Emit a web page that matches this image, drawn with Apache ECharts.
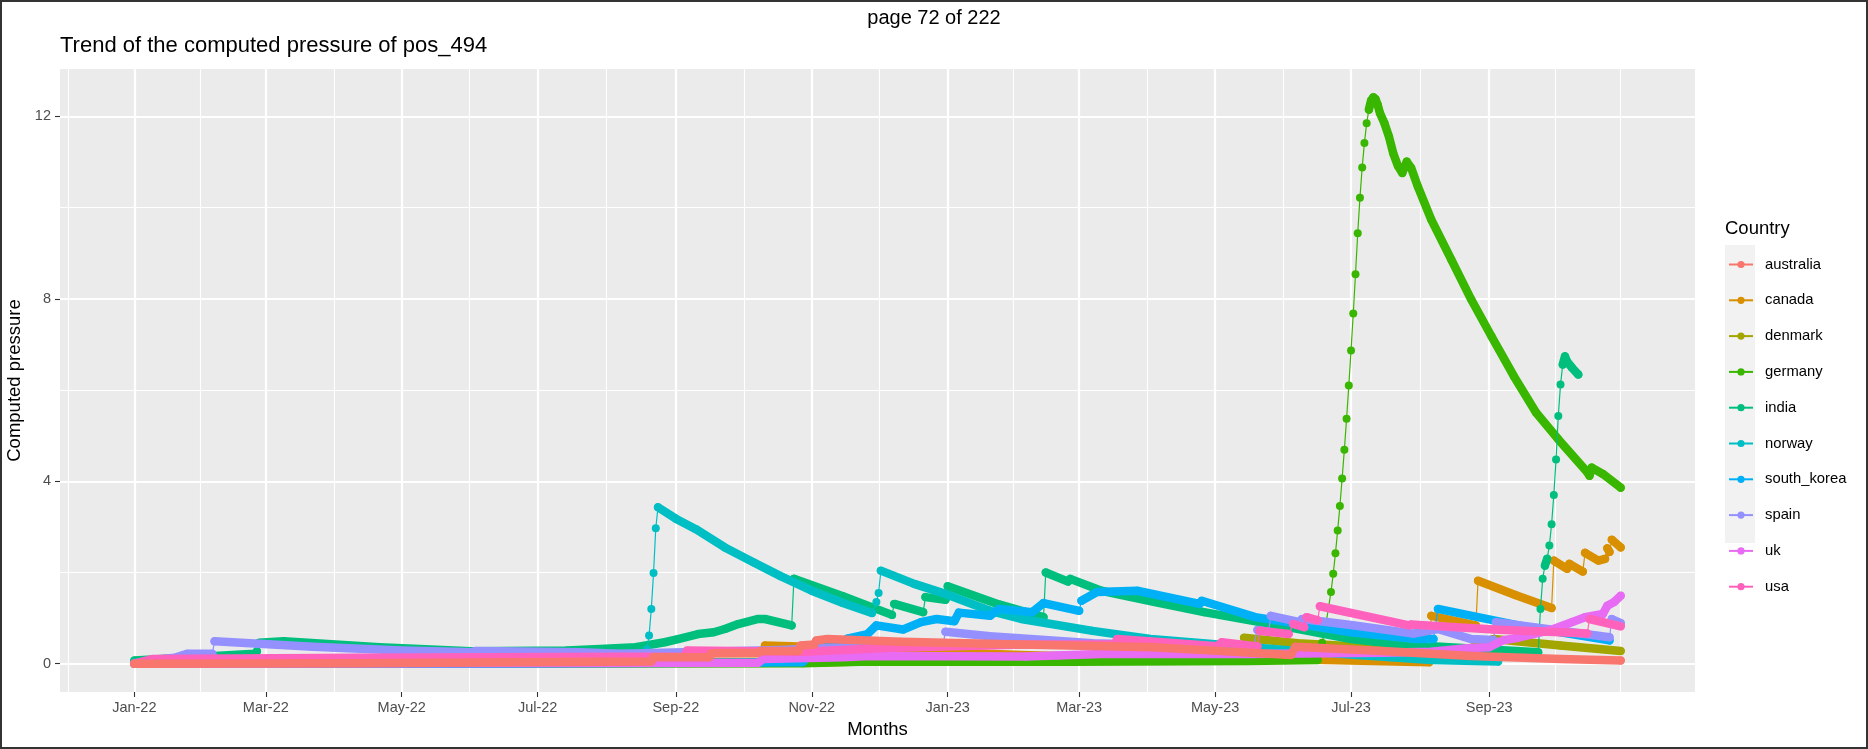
<!DOCTYPE html>
<html><head><meta charset="utf-8">
<script src="https://cdn.jsdelivr.net/npm/echarts@6.0.0/dist/echarts.min.js"></script>
<style>
html,body{margin:0;padding:0;background:#fff;}
#chart{position:absolute;left:0;top:0;width:1868px;height:749px;}
#frame{position:absolute;left:0;top:0;width:1868px;height:749px;box-sizing:border-box;border:2px solid #333;pointer-events:none;}
</style></head><body>
<div id="chart"></div><div id="frame"></div>
<script>
const countries = ['australia','canada','denmark','germany','india','norway','south_korea','spain','uk','usa'];
const colors = ['#F8766D','#D89000','#A3A500','#39B600','#00BF7D','#00BFC4','#00B0F6','#9590FF','#E76BF3','#FF62BC'];
const xTickDates = ['2022-01-01','2022-03-01','2022-05-01','2022-07-01','2022-09-01','2022-11-01','2023-01-01','2023-03-01','2023-05-01','2023-07-01','2023-09-01'];
const xTickLabels = ['Jan-22','Mar-22','May-22','Jul-22','Sep-22','Nov-22','Jan-23','Mar-23','May-23','Jul-23','Sep-23'];
const xBreakEnds = ['2021-11-03','2023-10-30'];
const yTicks = [0,4,8,12];
const yMinor = [2,6,10];

// [date, computed pressure, 'gap' = thin connector into this point]
const australia = [['2022-01-01',0.00],['2022-04-11',0.01],['2022-07-29',0.04],['2022-08-21',0.05],['2022-08-22',0.14],['2022-09-16',0.14],['2022-09-17',0.23],['2022-10-08',0.24],['2022-10-09',0.28],['2022-10-26',0.28],['2022-10-27',0.40],['2022-11-02',0.42],['2022-11-03',0.51],['2022-11-08',0.54],['2022-12-11',0.48],['2023-02-03',0.42],['2023-04-03',0.36],['2023-05-06',0.27],['2023-06-04',0.19],['2023-06-06',0.37],['2023-07-15',0.28],['2023-08-24',0.17],['2023-10-03',0.10],['2023-10-30',0.07]];
const canada = [['2022-01-01',0.00],['2022-05-31',0.02],['2022-10-10',0.04],['2022-10-11',0.40],['2022-10-30',0.37],['2022-12-17',0.27],['2023-02-03',0.19],['2023-03-13',0.14],['2023-03-14',0.21],['2023-05-16',0.12],['2023-08-05',0.03],['2023-08-06',1.05],['2023-08-26',0.84],['2023-08-27',1.82],['2023-09-13',1.50],['2023-09-29',1.22],['2023-09-30',2.26],['2023-10-06',2.08],['2023-10-07',2.19],['2023-10-13',2.02],['2023-10-14',2.43],['2023-10-20',2.26],['2023-10-23',2.30],['2023-10-24',2.53],['2023-10-25',2.45],['2023-10-26',2.72],['2023-10-30',2.55]];
const denmark = [['2022-01-01',0.00],['2022-10-28',0.02],['2022-12-27',0.08],['2023-02-25',0.10],['2023-05-13',0.10],['2023-05-14',0.57],['2023-06-07',0.45],['2023-08-06',0.29],['2023-08-24',0.33],['2023-08-27',0.45],['2023-09-03',0.54],['2023-10-03',0.40],['2023-10-30',0.28]];
const germany = [['2022-01-01',0.00],['2022-10-28',0.01],['2022-11-27',0.05],['2023-02-25',0.04],['2023-05-16',0.06],['2023-06-16',0.08],['2023-06-17',0.26,'gap'],['2023-06-18',0.46,'gap'],['2023-06-19',0.65,'gap'],['2023-06-22',1.57],['2023-06-23',1.97],['2023-06-24',2.42],['2023-06-25',2.92],['2023-06-26',3.46],['2023-06-27',4.06],['2023-06-28',4.69],['2023-06-29',5.37],['2023-06-30',6.10],['2023-07-01',6.87],['2023-07-02',7.68],['2023-07-03',8.54],['2023-07-04',9.44],['2023-07-05',10.22],['2023-07-06',10.88],['2023-07-07',11.42],['2023-07-08',11.85],['2023-07-09',12.15],['2023-07-10',12.35],['2023-07-11',12.42],['2023-07-12',12.38],['2023-07-13',12.25],['2023-07-14',12.07],['2023-07-16',11.85],['2023-07-18',11.56],['2023-07-20',11.18],['2023-07-22',10.92],['2023-07-24',10.76],['2023-07-26',11.01],['2023-07-28',10.87],['2023-07-31',10.46],['2023-08-06',9.74],['2023-08-15',8.86],['2023-08-24',7.98],['2023-09-02',7.18],['2023-09-12',6.31],['2023-09-22',5.51],['2023-10-02',4.92],['2023-10-15',4.20],['2023-10-16',4.12],['2023-10-17',4.30],['2023-10-22',4.16],['2023-10-30',3.86]];
const india = [['2022-01-01',0.07],['2022-02-06',0.17],['2022-02-24',0.22],['2022-02-25',0.27],['2022-02-26',0.46,'gap'],['2022-03-09',0.49],['2022-04-21',0.36],['2022-06-01',0.27],['2022-07-14',0.29],['2022-07-29',0.32],['2022-08-14',0.36],['2022-08-27',0.47],['2022-09-02',0.54],['2022-09-11',0.65],['2022-09-18',0.69],['2022-09-23',0.76],['2022-09-29',0.87],['2022-10-08',0.98],['2022-10-11',0.98],['2022-10-23',0.84],['2022-10-24',1.86],['2022-11-15',1.48],['2022-12-07',1.07],['2022-12-08',1.31],['2022-12-21',1.13],['2022-12-22',1.46],['2022-12-31',1.40],['2023-01-01',1.70],['2023-01-24',1.30],['2023-02-13',1.02],['2023-02-14',2.00],['2023-02-24',1.80],['2023-02-25',1.86],['2023-03-11',1.60],['2023-04-04',1.35],['2023-04-26',1.13],['2023-06-05',0.78],['2023-07-01',0.54],['2023-07-19',0.44],['2023-08-14',0.36],['2023-09-23',0.25],['2023-09-24',1.20],['2023-09-25',1.86],['2023-09-26',2.15],['2023-09-27',2.30],['2023-09-28',2.59],['2023-09-29',3.06],['2023-09-30',3.70],['2023-10-01',4.48],['2023-10-02',5.43],['2023-10-03',6.12],['2023-10-04',6.56],['2023-10-05',6.74],['2023-10-06',6.62],['2023-10-08',6.50],['2023-10-11',6.34]];
const norway = [['2022-01-01',0.02],['2022-05-31',0.06],['2022-08-18',0.12],['2022-08-19',0.31,'gap'],['2022-08-20',0.62],['2022-08-21',1.20],['2022-08-22',1.99],['2022-08-23',2.97],['2022-08-24',3.43],['2022-09-01',3.18],['2022-09-10',2.95],['2022-09-23',2.55],['2022-10-06',2.22],['2022-10-18',1.92],['2022-11-01',1.60],['2022-11-15',1.33],['2022-11-28',1.11],['2022-11-30',1.35,'gap'],['2022-12-01',1.55,'gap'],['2022-12-02',2.04],['2022-12-17',1.75],['2022-12-31',1.53],['2023-01-20',1.16],['2023-02-03',0.98],['2023-03-07',0.72],['2023-04-02',0.54],['2023-04-20',0.47],['2023-06-04',0.29],['2023-07-19',0.14],['2023-08-06',0.08],['2023-09-05',0.05]];
const south_korea = [['2022-01-01',0.00],['2022-06-10',0.00],['2022-10-28',0.03],['2022-11-02',0.38],['2022-11-15',0.42],['2022-11-17',0.55],['2022-11-26',0.65],['2022-11-30',0.84],['2022-12-12',0.75],['2022-12-20',0.91],['2022-12-27',0.98],['2023-01-04',0.93],['2023-01-06',1.12],['2023-01-20',1.05],['2023-01-24',1.20],['2023-02-08',1.13],['2023-02-13',1.33],['2023-03-01',1.16],['2023-03-02',1.38],['2023-03-09',1.57],['2023-03-27',1.60],['2023-04-24',1.31],['2023-04-25',1.38],['2023-05-19',1.02],['2023-07-01',0.69],['2023-07-30',0.54],['2023-08-07',0.54],['2023-08-09',1.20],['2023-09-14',0.84],['2023-10-25',0.51]];
const spain = [['2022-01-01',0.00],['2022-01-09',0.07],['2022-01-13',0.10],['2022-01-19',0.13],['2022-01-25',0.22],['2022-02-05',0.22],['2022-02-06',0.49],['2022-03-22',0.37],['2022-05-01',0.29],['2022-06-02',0.25],['2022-06-03',0.28],['2022-07-20',0.25],['2022-08-07',0.22],['2022-10-18',0.30],['2022-12-30',0.45],['2022-12-31',0.70],['2023-01-20',0.60],['2023-03-07',0.45],['2023-04-26',0.38],['2023-05-18',0.35],['2023-05-20',0.74,'gap'],['2023-05-25',0.70],['2023-05-26',1.05],['2023-06-08',0.91],['2023-06-09',0.98],['2023-07-01',0.85],['2023-07-29',0.66],['2023-08-09',0.76],['2023-08-24',0.54],['2023-09-03',0.52],['2023-09-04',0.91],['2023-10-25',0.58],['2023-10-26',0.98],['2023-10-30',0.89]];
const uk = [['2022-01-01',0.00],['2022-10-08',0.02],['2022-10-10',0.10],['2022-11-15',0.14],['2022-11-27',0.17],['2023-02-05',0.16],['2023-02-19',0.18],['2023-03-14',0.22],['2023-05-16',0.21],['2023-07-15',0.24],['2023-08-06',0.26],['2023-08-22',0.34],['2023-09-01',0.36],['2023-09-07',0.51],['2023-09-14',0.57],['2023-09-28',0.73],['2023-10-08',0.91],['2023-10-14',1.02],['2023-10-22',1.09],['2023-10-24',1.27],['2023-10-27',1.35],['2023-10-30',1.49]];
const usa = [['2022-01-01',0.00],['2022-01-09',0.10],['2022-04-11',0.13],['2022-08-07',0.15],['2022-09-05',0.16],['2022-09-06',0.29],['2022-10-28',0.26],['2022-12-07',0.35],['2023-02-05',0.42],['2023-03-17',0.42],['2023-03-18',0.54],['2023-05-02',0.38],['2023-05-04',0.47],['2023-05-20',0.38],['2023-05-21',0.72],['2023-06-03',0.65],['2023-06-05',0.87,'gap'],['2023-06-10',0.80],['2023-06-11',1.02],['2023-06-16',0.95],['2023-06-17',1.26],['2023-07-27',0.84],['2023-07-28',0.86],['2023-09-03',0.75],['2023-10-03',0.69],['2023-10-15',0.66],['2023-10-16',0.98],['2023-10-30',0.82]];

const seriesData = {australia, canada, denmark, germany, india, norway, south_korea, spain, uk, usa};

const FONT = "'Liberation Sans', Arial, Helvetica, sans-serif";
const DAY0 = Date.UTC(2022,0,1);
function day(s){ const p = s.split('-').map(Number); return (Date.UTC(p[0],p[1]-1,p[2]) - DAY0)/864e5; }

const majorDays = xTickDates.map(day);
const labelOf = {}; majorDays.forEach((d,i)=>{ labelOf[d] = xTickLabels[i]; });
const extBreaks = [day(xBreakEnds[0])].concat(majorDays, [day(xBreakEnds[1])]);
const minorDays = [];
for (let i=0;i<extBreaks.length-1;i++) minorDays.push((extBreaks[i]+extBreaks[i+1])/2);
minorDays.push(day(xBreakEnds[1]));

const xMin = -33.35, xMax = 700.35, yMin = -0.621, yMax = 13.041;

const series = [];
countries.forEach((c,i)=>{
  const pts = seriesData[c].map(p=>[day(p[0]), p[1], p[2]==='gap']);
  const z = c==='australia' ? 30 : 3 + i*2;
  const thin = pts.map(p=>[p[0],p[1]]);
  const thick = [];
  pts.forEach((p,k)=>{
    if (k>0) {
      const q = pts[k-1];
      const slope = Math.abs(p[1]-q[1])/(p[0]-q[0]);
      if (p[2] || slope >= 0.2) thick.push([(p[0]+q[0])/2, null]);
    }
    thick.push([p[0],p[1]]);
  });
  series.push({
    name: c, type:'line', data: thin, z: z, silent:true, animation:false,
    symbol:'circle', symbolSize:8, showSymbol:true,
    lineStyle:{color:colors[i], width:1.2}, itemStyle:{color:colors[i]},
    emphasis:{disabled:true}
  });
  series.push({
    name: c, type:'line', data: thick, z: z, silent:true, animation:false,
    symbol:'none', showSymbol:false, connectNulls:false,
    lineStyle:{color:colors[i], width:8.5, cap:'round', join:'round'}, itemStyle:{color:colors[i]},
    emphasis:{disabled:true}
  });
});

const chart = echarts.init(document.getElementById('chart'), null, {renderer:'canvas'});
chart.setOption({
  animation:false,
  backgroundColor:'#ffffff',
  textStyle:{fontFamily:FONT},
  title:[
    {text:'page 72 of 222', left:'center', top:8, padding:0, textStyle:{fontSize:20, fontWeight:'normal', color:'#000', fontFamily:FONT}},
    {text:'Trend of the computed pressure of pos_494', left:60, top:35, padding:0, textStyle:{fontSize:22, fontWeight:'normal', color:'#000', fontFamily:FONT}},
    {text:'Country', left:1725, top:219, padding:0, textStyle:{fontSize:18.5, fontWeight:'normal', color:'#000', fontFamily:FONT}}
  ],
  graphic:[{type:'rect', left:1725, top:245, shape:{width:30, height:298}, style:{fill:'#F2F2F2'}, z:-1, silent:true}],
  legend:{
    data: countries, orient:'vertical', left:1728, top:257, itemWidth:24, itemHeight:9, itemGap:20.8,
    selectedMode:false, padding:0,
    textStyle:{fontSize:14.8, color:'#000', fontFamily:FONT, padding:[0,0,0,7]}
  },
  grid:{left:60, top:69, width:1635, height:623, show:true, backgroundColor:'#EBEBEB', borderWidth:0, outerBoundsMode:'none'},
  xAxis:[
    {type:'value', min:xMin, max:xMax, position:'bottom',
     name:'Months', nameLocation:'middle', nameGap:28, nameTextStyle:{fontSize:18.5, color:'#000', fontFamily:FONT},
     axisLine:{show:false, onZero:false},
     axisTick:{show:true, length:5, customValues:majorDays, lineStyle:{color:'#333', width:1.1}},
     axisLabel:{show:true, customValues:majorDays, margin:8, fontSize:14.5, color:'#4D4D4D', fontFamily:FONT, formatter:(v)=>labelOf[v] || ''},
     splitLine:{show:true, lineStyle:{color:'#ffffff', width:2.2}}},
    {type:'value', min:xMin, max:xMax, position:'bottom',
     axisLine:{show:false, onZero:false}, axisTick:{show:false, customValues:minorDays}, axisLabel:{show:false, customValues:minorDays},
     splitLine:{show:true, lineStyle:{color:'#ffffff', width:1.1}}}
  ],
  yAxis:[
    {type:'value', min:yMin, max:yMax, position:'left',
     name:'Computed pressure', nameLocation:'middle', nameGap:27, nameRotate:90, nameTextStyle:{fontSize:18.5, color:'#000', fontFamily:FONT},
     axisLine:{show:false, onZero:false},
     axisTick:{show:true, length:5, customValues:yTicks, lineStyle:{color:'#333', width:1.1}},
     axisLabel:{show:true, customValues:yTicks, margin:9, fontSize:14.5, color:'#4D4D4D', fontFamily:FONT},
     splitLine:{show:true, lineStyle:{color:'#ffffff', width:2.2}}},
    {type:'value', min:yMin, max:yMax, position:'left',
     axisLine:{show:false, onZero:false}, axisTick:{show:false, customValues:yMinor}, axisLabel:{show:false, customValues:yMinor},
     splitLine:{show:true, lineStyle:{color:'#ffffff', width:1.1}}}
  ],
  series: series
});
</script>
</body></html>
